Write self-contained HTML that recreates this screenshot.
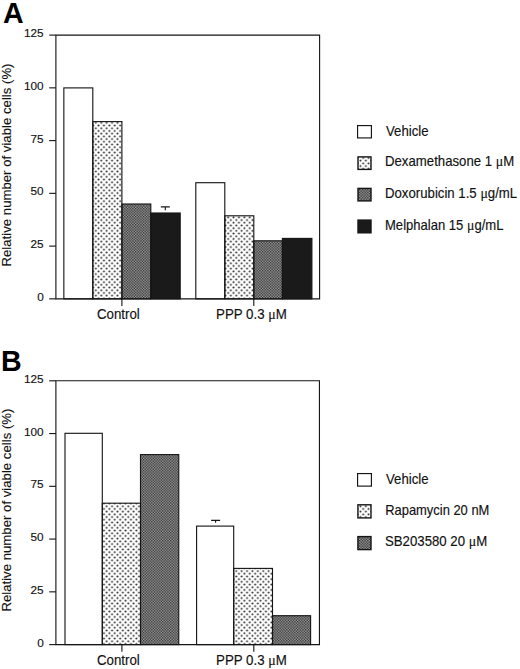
<!DOCTYPE html>
<html lang="en">
<head>
<meta charset="utf-8">
<title>Figure</title>
<style>
html,body{margin:0;padding:0;background:#fff;}
body{width:520px;height:669px;overflow:hidden;}
svg{display:block;}
text{font-family:"Liberation Sans",Arial,Helvetica,sans-serif;fill:#111;stroke:#111;stroke-width:0.14;}
.t13{font-size:13.3px;}
.lg{font-size:13.2px;}
.yl{font-size:13.2px;}
.t12{font-size:11.8px;}
.mu{font-family:"Liberation Serif","DejaVu Serif",serif;font-size:13.9px;stroke-width:0.12;}
.pl{font-size:28.6px;font-weight:bold;fill:#000;stroke:none;}
.ax{stroke:#151515;stroke-width:1.12;fill:none;}
.bar{stroke:#151515;stroke-width:1.12;}
</style>
</head>
<body>
<svg width="520" height="669" viewBox="0 0 520 669">
<defs>
<pattern id="dots" width="5.4" height="5.4" patternUnits="userSpaceOnUse">
<rect width="5.4" height="5.4" fill="#fff"/>
<circle cx="1.35" cy="1.35" r="1" fill="#242424"/>
<circle cx="4.05" cy="4.05" r="1" fill="#242424"/>
</pattern>
<pattern id="dark" width="2.7" height="2.7" patternUnits="userSpaceOnUse">
<rect width="2.7" height="2.7" fill="#757575"/>
<circle cx="0.675" cy="0.675" r="0.58" fill="#0c0c0c"/>
<circle cx="2.025" cy="2.025" r="0.58" fill="#0c0c0c"/>
<circle cx="2.025" cy="0.675" r="0.52" fill="#cfcfcf"/>
<circle cx="0.675" cy="2.025" r="0.52" fill="#cfcfcf"/>
</pattern>
</defs>
<rect width="520" height="669" fill="#fff"/>

<text class="pl" x="2.9" y="22.75">A</text>
<rect x="92.8" y="121.6" width="29.1" height="177.25" fill="url(#dots)"/>
<rect x="121.9" y="204" width="28.9" height="94.85" fill="url(#dark)"/>
<rect x="150.8" y="213" width="29.4" height="85.85" fill="#1a1a1a"/>
<rect class="bar" x="63.85" y="87.9" width="28.95" height="210.95" fill="none"/>
<rect class="bar" x="92.8" y="121.6" width="29.1" height="177.25" fill="none"/>
<rect class="bar" x="121.9" y="204" width="28.9" height="94.85" fill="none"/>
<rect class="bar" x="150.8" y="213" width="29.4" height="85.85" fill="none"/>
<rect x="224.8" y="215.8" width="29" height="83.05" fill="url(#dots)"/>
<rect x="253.8" y="240.8" width="28.6" height="58.05" fill="url(#dark)"/>
<rect x="282.4" y="238.4" width="29.5" height="60.45" fill="#1a1a1a"/>
<rect class="bar" x="195.8" y="182.7" width="29" height="116.15" fill="none"/>
<rect class="bar" x="224.8" y="215.8" width="29" height="83.05" fill="none"/>
<rect class="bar" x="253.8" y="240.8" width="28.6" height="58.05" fill="none"/>
<rect class="bar" x="282.4" y="238.4" width="29.5" height="60.45" fill="none"/>
<path class="ax" d="M160.8 206.9H169.8M165.3 206.9V210.2"/>
<path class="ax" d="M55.9 35.1H319.6V298.85H55.9Z"/>
<path class="ax" d="M49.2 35.1H55.9"/>
<text class="t12" text-anchor="end" x="43.7" y="37.2">125</text>
<path class="ax" d="M49.2 87.85H55.9"/>
<text class="t12" text-anchor="end" x="43.7" y="89.95">100</text>
<path class="ax" d="M49.2 140.6H55.9"/>
<text class="t12" text-anchor="end" x="43.7" y="142.7">75</text>
<path class="ax" d="M49.2 193.35H55.9"/>
<text class="t12" text-anchor="end" x="43.7" y="195.45">50</text>
<path class="ax" d="M49.2 246.1H55.9"/>
<text class="t12" text-anchor="end" x="43.7" y="248.2">25</text>
<path class="ax" d="M49.2 298.85H55.9"/>
<text class="t12" text-anchor="end" x="43.7" y="300.95">0</text>
<path class="ax" d="M121.9 298.85V306.05"/>
<path class="ax" d="M253.8 298.85V306.05"/>
<text class="t13" text-anchor="middle" transform="translate(118.4 319.45) scale(1 1.045)">Control</text>
<text class="t13" text-anchor="middle" transform="translate(251.4 319.45) scale(1 1.045)">PPP 0.3 <tspan class="mu">μ</tspan>M</text>
<text class="yl" text-anchor="middle" transform="translate(10.7 165) rotate(-90)">Relative number of viable cells (%)</text>
<rect x="357.57" y="125.58" width="13.85" height="12.35" fill="#fff" stroke="#151515" stroke-width="1.15"/>
<text class="lg" transform="translate(386 136.3) scale(1 1.045)">Vehicle</text>
<rect x="358" y="156.9" width="13" height="12.5" fill="url(#dots)" stroke="#151515" stroke-width="1.4"/>
<text class="lg" transform="translate(385 165.9) scale(1 1.045)">Dexamethasone 1 <tspan class="mu">μ</tspan>M</text>
<rect x="358" y="188.4" width="13" height="12.5" fill="url(#dark)" stroke="#151515" stroke-width="1.4"/>
<text class="lg" transform="translate(385 197.6) scale(1 1.045)">Doxorubicin 1.5 <tspan class="mu">μ</tspan>g/mL</text>
<rect x="358" y="220.1" width="13" height="12.7" fill="#1a1a1a" stroke="#151515" stroke-width="1.4"/>
<text class="lg" transform="translate(385 229.8) scale(0.99 1.045)">Melphalan 15 <tspan class="mu">μ</tspan>g/mL</text>
<text class="pl" x="1.1" y="370.75">B</text>
<rect x="102.3" y="503.2" width="38.2" height="141.4" fill="url(#dots)"/>
<rect x="140.5" y="454.6" width="38.25" height="190" fill="url(#dark)"/>
<rect class="bar" x="65" y="433.3" width="37.3" height="211.3" fill="none"/>
<rect class="bar" x="102.3" y="503.2" width="38.2" height="141.4" fill="none"/>
<rect class="bar" x="140.5" y="454.6" width="38.25" height="190" fill="none"/>
<rect x="233.7" y="568.4" width="38.8" height="76.2" fill="url(#dots)"/>
<rect x="272.5" y="615.7" width="38.1" height="28.9" fill="url(#dark)"/>
<rect class="bar" x="196.6" y="526.1" width="37.1" height="118.5" fill="none"/>
<rect class="bar" x="233.7" y="568.4" width="38.8" height="76.2" fill="none"/>
<rect class="bar" x="272.5" y="615.7" width="38.1" height="28.9" fill="none"/>
<path class="ax" d="M211.1 520.4H220.1M215.6 520.4V522.8"/>
<path class="ax" d="M55.9 380.8H319.45V644.6H55.9Z"/>
<path class="ax" d="M49.2 380.8H55.9"/>
<text class="t12" text-anchor="end" x="43.7" y="382.9">125</text>
<path class="ax" d="M49.2 433.56H55.9"/>
<text class="t12" text-anchor="end" x="43.7" y="435.66">100</text>
<path class="ax" d="M49.2 486.32H55.9"/>
<text class="t12" text-anchor="end" x="43.7" y="488.42">75</text>
<path class="ax" d="M49.2 539.08H55.9"/>
<text class="t12" text-anchor="end" x="43.7" y="541.18">50</text>
<path class="ax" d="M49.2 591.84H55.9"/>
<text class="t12" text-anchor="end" x="43.7" y="593.94">25</text>
<path class="ax" d="M49.2 644.6H55.9"/>
<text class="t12" text-anchor="end" x="43.7" y="646.7">0</text>
<path class="ax" d="M121.9 644.6V651.8"/>
<path class="ax" d="M253.8 644.6V651.8"/>
<text class="t13" text-anchor="middle" transform="translate(118.4 665.2) scale(1 1.045)">Control</text>
<text class="t13" text-anchor="middle" transform="translate(251.4 665.2) scale(1 1.045)">PPP 0.3 <tspan class="mu">μ</tspan>M</text>
<text class="yl" text-anchor="middle" transform="translate(10.7 510.1) rotate(-90)">Relative number of viable cells (%)</text>
<rect x="357.57" y="473.57" width="13.85" height="12.55" fill="#fff" stroke="#151515" stroke-width="1.15"/>
<text class="lg" transform="translate(386 484.3) scale(1 1.045)">Vehicle</text>
<rect x="357.9" y="504.8" width="13.1" height="13.1" fill="url(#dots)" stroke="#151515" stroke-width="1.4"/>
<text class="lg" transform="translate(385.2 514.5) scale(0.98 1.045)">Rapamycin 20 nM</text>
<rect x="357.9" y="536.6" width="13.1" height="13" fill="url(#dark)" stroke="#151515" stroke-width="1.4"/>
<text class="lg" transform="translate(385 546) scale(1 1.045)">SB203580 20 <tspan class="mu">μ</tspan>M</text>
</svg>
</body>
</html>
